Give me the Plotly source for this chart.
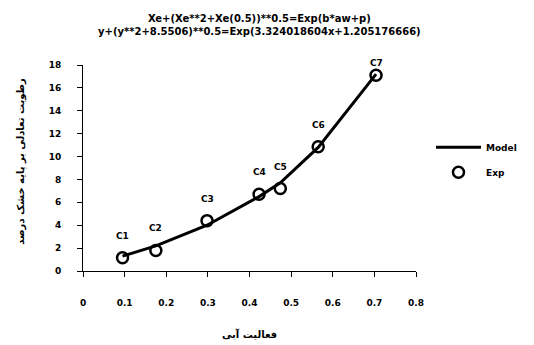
import plotly.graph_objects as go

# Data
labels = ["C1", "C2", "C3", "C4", "C5", "C6", "C7"]
aw = [0.095, 0.175, 0.298, 0.423, 0.474, 0.565, 0.704]
exp_vals = [1.15, 1.8, 4.4, 6.7, 7.2, 10.85, 17.1]
model_vals = [1.3, 2.2, 4.0, 6.5, 7.7, 10.8, 17.2]
label_shift = [22, 22, 22, 22, 22, 22, 12]
x_ticks = [0, 0.1, 0.2, 0.3, 0.4, 0.5, 0.6, 0.7, 0.8]
x_ticktext = ["0", "0.1", "0.2", "0.3", "0.4", "0.5", "0.6", "0.7", "0.8"]

title_lines = ["Xe+(Xe**2+Xe(0.5))**0.5=Exp(b*aw+p)",
               "y+(y**2+8.5506)**0.5=Exp(3.324018604x+1.205176666)"]
x_title = "فعالیت آبی"
y_title = "رطوبت تعادلی بر پایه خشک درصد"

FONT = "DejaVu Sans"
bold = dict(family=FONT, color="black", weight="bold")

fig = go.Figure()
fig.add_trace(go.Scatter(x=aw, y=model_vals, mode="lines", name="Model",
                         legendgroup="m",
                         line=dict(color="black", width=3)))
fig.add_trace(go.Scatter(x=aw, y=exp_vals, mode="markers", name="Exp",
                         legendgroup="e",
                         marker=dict(symbol="circle-open", size=11, color="black",
                                     line=dict(width=2.5, color="black"))))

for lab, xv, yv, sh in zip(labels, aw, exp_vals, label_shift):
    fig.add_annotation(x=xv, y=yv, text=lab, showarrow=False, yshift=sh,
                       font=dict(size=9, **bold))

fig.add_annotation(xref="paper", yref="paper", x=0.53, y=1.0, yshift=40,
                   yanchor="middle",
                   text="<br>".join(title_lines), showarrow=False,
                   font=dict(size=10, **bold), align="center")
fig.add_annotation(xref="paper", yref="paper", x=0.5, y=0, yshift=-71,
                   text=x_title, showarrow=False, font=dict(size=10, **bold))
fig.add_annotation(xref="paper", yref="paper", x=0, xshift=-70, y=0.53,
                   text=y_title, showarrow=False, textangle=-90,
                   font=dict(size=10, **bold))

axis_common = dict(showgrid=False, zeroline=False, showline=True, linecolor="black",
                   linewidth=1, ticks="outside", ticklen=5, tickcolor="black",
                   tickfont=dict(size=9, **bold))
fig.update_xaxes(range=[0, 0.8], tickvals=x_ticks, ticktext=x_ticktext,
                 tickangle=0, ticklabelstandoff=18, **axis_common)
fig.update_yaxes(range=[0, 18], dtick=2, tick0=0, ticklabelstandoff=14, **axis_common)

fig.update_layout(width=534, height=345, margin=dict(l=83, r=110, t=65, b=74),
                  plot_bgcolor="white", paper_bgcolor="white",
                  legend=dict(x=1.045, y=0.54, xanchor="left", yanchor="middle",
                              font=dict(size=9, **bold), itemwidth=45,
                              tracegroupgap=6))
fig.write_html("out.html")
